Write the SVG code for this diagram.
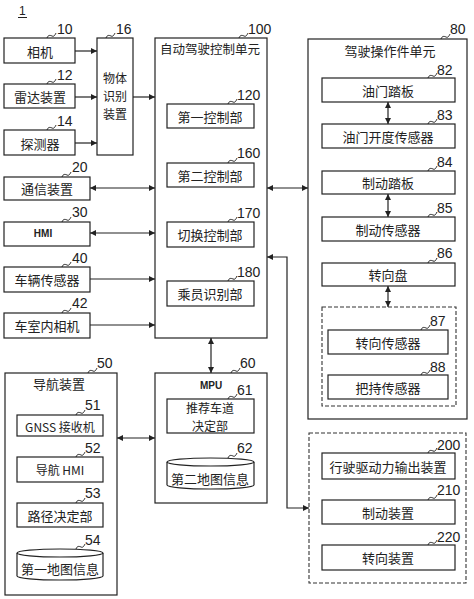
<svg xmlns="http://www.w3.org/2000/svg" width="474" height="599" viewBox="0 0 474 599">
<style>
.b{fill:#fff;stroke:#222;stroke-width:1.2}
.d{fill:none;stroke:#333;stroke-width:1.1;stroke-dasharray:4 2}
.t{font-family:"Noto Sans CJK SC","Noto Sans",sans-serif;font-size:13px;fill:#222;text-anchor:middle;dominant-baseline:central}
.s{font-family:"Liberation Sans Narrow","Liberation Sans",sans-serif;font-size:10px;font-weight:bold;fill:#222;text-anchor:middle;dominant-baseline:central}
.n{font-family:"Liberation Sans","Arial",sans-serif;font-size:14px;fill:#222}
.l{fill:none;stroke:#222;stroke-width:1}
.c{fill:none;stroke:#222;stroke-width:1.2}
</style>
<defs>
<marker id="a" viewBox="0 0 10 10" refX="10" refY="5" markerWidth="9" markerHeight="6" markerUnits="userSpaceOnUse" orient="auto-start-reverse">
<path d="M0,0 L10,5 L0,10 z" fill="#222"/>
</marker>
</defs>
<g id="fig">
<text class="n" x="19" y="15" style="font-size:12px">1</text>
<line x1="18" y1="17.5" x2="27" y2="17.5" stroke="#222" stroke-width="1"/>
</g>
<g id="n10"><rect class="b" x="4" y="38" width="71" height="25"/><text class="t" x="40" y="51">相机</text><path class="l" d="M47,38 c1,-3 3,-3 5,-2 s3,-1 4,-3"/><text class="n" x="57" y="34">10</text></g>
<g id="n12"><rect class="b" x="4" y="84" width="71" height="24"/><text class="t" x="40" y="96">雷达装置</text><path class="l" d="M47,84 c1,-3 3,-3 5,-2 s3,-1 4,-3"/><text class="n" x="57" y="80">12</text></g>
<g id="n14"><rect class="b" x="4" y="130" width="71" height="25"/><text class="t" x="40" y="143">探测器</text><path class="l" d="M47,130 c1,-3 3,-3 5,-2 s3,-1 4,-3"/><text class="n" x="57" y="126">14</text></g>
<g id="n16"><rect class="b" x="97" y="38" width="36" height="117"/><text class="t" x="115" y="77" style="font-size:12px">物体</text><text class="t" x="115" y="95" style="font-size:12px">识别</text><text class="t" x="115" y="113" style="font-size:12px">装置</text><path class="l" d="M106,38 c1,-3 3,-3 5,-2 s3,-1 4,-3"/><text class="n" x="116" y="34">16</text></g>
<g id="n20"><rect class="b" x="4" y="177" width="86" height="23"/><text class="t" x="47" y="188">通信装置</text><path class="l" d="M62,177 c1,-3 3,-3 5,-2 s3,-1 4,-3"/><text class="n" x="72" y="172">20</text></g>
<g id="n30"><rect class="b" x="4" y="222" width="86" height="24"/><text class="s" x="43" y="233">HMI</text><path class="l" d="M62,222 c1,-3 3,-3 5,-2 s3,-1 4,-3"/><text class="n" x="72" y="217">30</text></g>
<g id="n40"><rect class="b" x="4" y="267" width="86" height="25"/><text class="t" x="47" y="279">车辆传感器</text><path class="l" d="M62,267 c1,-3 3,-3 5,-2 s3,-1 4,-3"/><text class="n" x="72" y="263">40</text></g>
<g id="n42"><rect class="b" x="4" y="313" width="86" height="25"/><text class="t" x="47" y="325">车室内相机</text><path class="l" d="M62,313 c1,-3 3,-3 5,-2 s3,-1 4,-3"/><text class="n" x="72" y="308">42</text></g>
<g id="n100"><rect class="b" x="155" y="38" width="112" height="300"/><text class="t" x="210" y="48" style="font-size:12.5px">自动驾驶控制单元</text><path class="l" d="M239,38 c1,-3 3,-3 5,-2 s3,-1 4,-3"/><text class="n" x="248" y="34">100</text></g>
<g id="n120"><rect class="b" x="167" y="104" width="87" height="24"/><text class="t" x="210" y="116">第一控制部</text><path class="l" d="M228,104 c1,-3 3,-3 5,-2 s3,-1 4,-3"/><text class="n" x="237" y="100">120</text></g>
<g id="n160"><rect class="b" x="167" y="163" width="87" height="24"/><text class="t" x="210" y="175">第二控制部</text><path class="l" d="M228,163 c1,-3 3,-3 5,-2 s3,-1 4,-3"/><text class="n" x="237" y="158">160</text></g>
<g id="n170"><rect class="b" x="167" y="222" width="87" height="25"/><text class="t" x="210" y="234">切换控制部</text><path class="l" d="M228,222 c1,-3 3,-3 5,-2 s3,-1 4,-3"/><text class="n" x="237" y="218">170</text></g>
<g id="n180"><rect class="b" x="167" y="281" width="87" height="25"/><text class="t" x="210" y="293">乘员识别部</text><path class="l" d="M228,281 c1,-3 3,-3 5,-2 s3,-1 4,-3"/><text class="n" x="237" y="277">180</text></g>
<g id="n80"><rect class="b" x="308" y="39" width="159" height="380"/><text class="t" x="390" y="50">驾驶操作件单元</text><path class="l" d="M441,39 c1,-3 3,-3 5,-2 s3,-1 4,-3"/><text class="n" x="450" y="34">80</text></g>
<g id="n82"><rect class="b" x="322" y="78" width="133" height="24"/><text class="t" x="388" y="90">油门踏板</text><path class="l" d="M428,78 c1,-3 3,-3 5,-2 s3,-1 4,-3"/><text class="n" x="437" y="75">82</text></g>
<g id="n83"><rect class="b" x="322" y="124" width="133" height="24"/><text class="t" x="388" y="136">油门开度传感器</text><path class="l" d="M428,124 c1,-3 3,-3 5,-2 s3,-1 4,-3"/><text class="n" x="437" y="120">83</text></g>
<g id="n84"><rect class="b" x="322" y="171" width="133" height="23"/><text class="t" x="388" y="182">制动踏板</text><path class="l" d="M428,171 c1,-3 3,-3 5,-2 s3,-1 4,-3"/><text class="n" x="437" y="167">84</text></g>
<g id="n85"><rect class="b" x="322" y="217" width="133" height="24"/><text class="t" x="388" y="229">制动传感器</text><path class="l" d="M428,217 c1,-3 3,-3 5,-2 s3,-1 4,-3"/><text class="n" x="437" y="213">85</text></g>
<g id="n86"><rect class="b" x="322" y="263" width="133" height="23"/><text class="t" x="388" y="274">转向盘</text><path class="l" d="M428,263 c1,-3 3,-3 5,-2 s3,-1 4,-3"/><text class="n" x="437" y="258">86</text></g>
<g id="g87"><rect class="d" x="322" y="307" width="134" height="99"/></g>
<g id="n87"><rect class="b" x="328" y="330" width="120" height="24"/><text class="t" x="388" y="342">转向传感器</text><path class="l" d="M421,330 c1,-3 3,-3 5,-2 s3,-1 4,-3"/><text class="n" x="430" y="326">87</text></g>
<g id="n88"><rect class="b" x="328" y="375" width="120" height="24"/><text class="t" x="388" y="387">把持传感器</text><path class="l" d="M421,375 c1,-3 3,-3 5,-2 s3,-1 4,-3"/><text class="n" x="430" y="372">88</text></g>
<g id="n50"><rect class="b" x="5" y="373" width="112" height="222"/><text class="t" x="59" y="383">导航装置</text><path class="l" d="M88,373 c1,-3 3,-3 5,-2 s3,-1 4,-3"/><text class="n" x="97" y="368">50</text></g>
<g id="n51"><rect class="b" x="17" y="415" width="86" height="21"/><text class="t" x="60" y="426" style="font-size:12px">GNSS 接收机</text><path class="l" d="M76,415 c1,-3 3,-3 5,-2 s3,-1 4,-3"/><text class="n" x="85" y="410">51</text></g>
<g id="n52"><rect class="b" x="17" y="457" width="86" height="25"/><text class="t" x="60" y="469" style="font-size:12px">导航 HMI</text><path class="l" d="M76,457 c1,-3 3,-3 5,-2 s3,-1 4,-3"/><text class="n" x="85" y="453">52</text></g>
<g id="n53"><rect class="b" x="17" y="503" width="86" height="24"/><text class="t" x="60" y="515">路径决定部</text><path class="l" d="M76,503 c1,-3 3,-3 5,-2 s3,-1 4,-3"/><text class="n" x="85" y="498">53</text></g>
<g id="n54"><path class="b" d="M17,553 A43,4 0 0,1 103,553 V576 A43,4 0 0,1 17,576 Z"/><path class="c" d="M17,553 A43,4 0 0,0 103,553"/><text class="t" x="60" y="568">第一地图信息</text><path class="l" d="M76,549 c1,-3 3,-3 5,-2 s3,-1 4,-3"/><text class="n" x="85" y="545">54</text></g>
<g id="n60"><rect class="b" x="155" y="373" width="112" height="130"/><text class="s" x="211" y="385">MPU</text><path class="l" d="M231,373 c1,-3 3,-3 5,-2 s3,-1 4,-3"/><text class="n" x="240" y="368">60</text></g>
<g id="n61"><rect class="b" x="167" y="399" width="87" height="34"/><text class="t" x="210" y="407.5" style="font-size:12px">推荐车道</text><text class="t" x="210" y="425" style="font-size:12px">决定部</text><path class="l" d="M228,399 c1,-3 3,-3 5,-2 s3,-1 4,-3"/><text class="n" x="237" y="395">61</text></g>
<g id="n62"><path class="b" d="M167,462 A43.5,4 0 0,1 254,462 V485 A43.5,4 0 0,1 167,485 Z"/><path class="c" d="M167,462 A43.5,4 0 0,0 254,462"/><text class="t" x="210" y="478">第二地图信息</text><path class="l" d="M228,458 c1,-3 3,-3 5,-2 s3,-1 4,-3"/><text class="n" x="237" y="453">62</text></g>
<g id="g200"><rect class="d" x="309" y="433" width="157" height="150"/></g>
<g id="n200"><rect class="b" x="322" y="453" width="133" height="26"/><text class="t" x="388" y="466">行驶驱动力输出装置</text><path class="l" d="M428,453 c1,-3 3,-3 5,-2 s3,-1 4,-3"/><text class="n" x="437" y="450">200</text></g>
<g id="n210"><rect class="b" x="322" y="500" width="133" height="24"/><text class="t" x="388" y="512">制动装置</text><path class="l" d="M428,500 c1,-3 3,-3 5,-2 s3,-1 4,-3"/><text class="n" x="437" y="495">210</text></g>
<g id="n220"><rect class="b" x="322" y="545" width="133" height="25"/><text class="t" x="388" y="557">转向装置</text><path class="l" d="M428,545 c1,-3 3,-3 5,-2 s3,-1 4,-3"/><text class="n" x="437" y="542">220</text></g>
<g id="connectors" fill="none" stroke="#222" stroke-width="1.2">
<line x1="75" y1="51" x2="97" y2="51" marker-end="url(#a)"/>
<line x1="75" y1="97" x2="97" y2="97" marker-end="url(#a)"/>
<line x1="75" y1="143" x2="97" y2="143" marker-end="url(#a)"/>
<line x1="133" y1="97" x2="155" y2="97" marker-end="url(#a)"/>
<line x1="90" y1="188" x2="155" y2="188" marker-start="url(#a)" marker-end="url(#a)"/>
<line x1="90" y1="233" x2="155" y2="233" marker-start="url(#a)" marker-end="url(#a)"/>
<line x1="90" y1="279" x2="155" y2="279" marker-end="url(#a)"/>
<line x1="90" y1="325" x2="155" y2="325" marker-end="url(#a)"/>
<line x1="267" y1="188" x2="308" y2="188" marker-start="url(#a)" marker-end="url(#a)"/>
<line x1="388" y1="102" x2="388" y2="124" marker-start="url(#a)" marker-end="url(#a)"/>
<line x1="388" y1="194" x2="388" y2="217" marker-start="url(#a)" marker-end="url(#a)"/>
<line x1="388" y1="286" x2="388" y2="307" marker-start="url(#a)" marker-end="url(#a)"/>
<line x1="211" y1="338" x2="211" y2="373" marker-start="url(#a)" marker-end="url(#a)"/>
<line x1="117" y1="438" x2="155" y2="438" marker-start="url(#a)" marker-end="url(#a)"/>
<path d="M267,257 H287 V508 H309" marker-start="url(#a)" marker-end="url(#a)"/>
</g>
</svg>
